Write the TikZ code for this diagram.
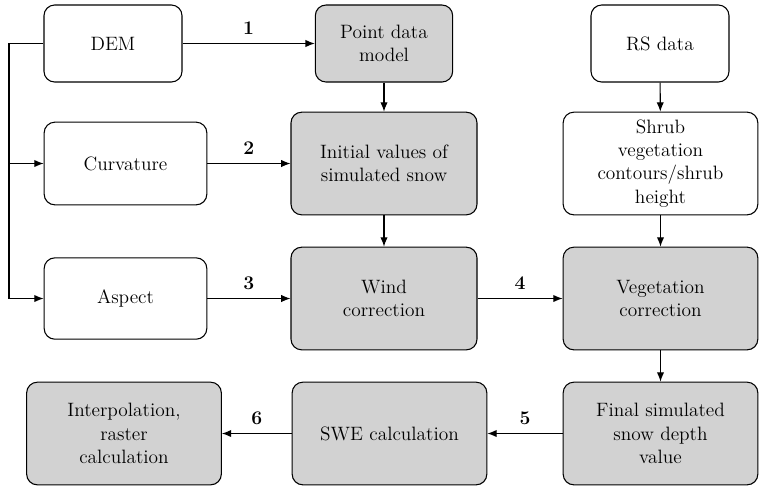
\documentclass[tikz,border=0pt]{standalone}
\usetikzlibrary{arrows.meta}

\begin{document}
\begin{tikzpicture} [x = 0.75pt, y = -0.75pt, line width = 0.8pt,
		box/.style = {draw, rounded corners = 8pt, align = center, font = \rmfamily\fontsize{14.5}{17.5}\selectfont},
		inbox/.style = {box, fill = white},
		procbox/.style = {box, fill = gray!35},
		num/.style = {font = \rmfamily\fontsize{14.5}{17}\selectfont\bfseries, above = 3pt},
		>={Latex[length = 7pt, width = 5.5pt]}]
		\useasboundingbox (0,0) rectangle (760,487);
		% inputs
		\node [inbox, minimum width = 103.5pt, minimum height = 57.75pt] (dem) at (113,43.5) {DEM};
		\node [inbox, minimum width = 122pt, minimum height = 62pt] (curv) at (125.5,163.5) {Curvature};
		\node [inbox, minimum width = 122pt, minimum height = 61pt] (asp) at (125.5,298.5) {Aspect};
		\node [inbox, minimum width = 103.5pt, minimum height = 57.75pt] (rs) at (660,43.5) {RS data};
		\node [inbox, minimum width = 146pt, minimum height = 77pt] (shrub) at (660.5,163.5) {Shrub\\vegetation\\contours/shrub\\height};
		% processing steps
		\node [procbox, minimum width = 103pt, minimum height = 57.75pt] (point) at (384,43.5) {Point data\\model};
		\node [procbox, minimum width = 139.5pt, minimum height = 77pt] (init) at (384,163.5) {Initial values of\\simulated snow};
		\node [procbox, minimum width = 139.5pt, minimum height = 77pt] (wind) at (384,298.5) {Wind\\correction};
		\node [procbox, minimum width = 146pt, minimum height = 77pt] (veg) at (660.5,298.5) {Vegetation\\correction};
		\node [procbox, minimum width = 146pt, minimum height = 77pt] (final) at (660.5,433.5) {Final simulated\\snow depth\\value};
		\node [procbox, minimum width = 146pt, minimum height = 77pt] (swe) at (389.5,433.5) {SWE calculation};
		\node [procbox, minimum width = 146pt, minimum height = 77pt] (interp) at (124,433.5) {Interpolation,\\raster\\calculation};
		% left bus
		\coordinate (bus) at (9,43.5);
		\draw [->] (dem.west) -- (bus) |- (asp.west);
		\draw [->] (bus |- curv.west) -- (curv.west);
		% numbered arrows
		\draw [->] (dem) -- (point) node [num, midway] {1};
		\draw [->] (curv) -- (init) node [num, midway] {2};
		\draw [->] (asp) -- (wind) node [num, midway] {3};
		\draw [->] (wind) -- (veg) node [num, midway] {4};
		\draw [->] (final) -- (swe) node [num, midway] {5};
		\draw [->] (swe) -- (interp) node [num, midway] {6};
		% vertical arrows
		\draw [->] (point) -- (init);
		\draw [->] (init) -- (wind);
		\draw [->] (rs) -- (shrub);
		\draw [->] (shrub) -- (veg);
		\draw [->] (veg) -- (final);
	\end{tikzpicture}
\end{document}
